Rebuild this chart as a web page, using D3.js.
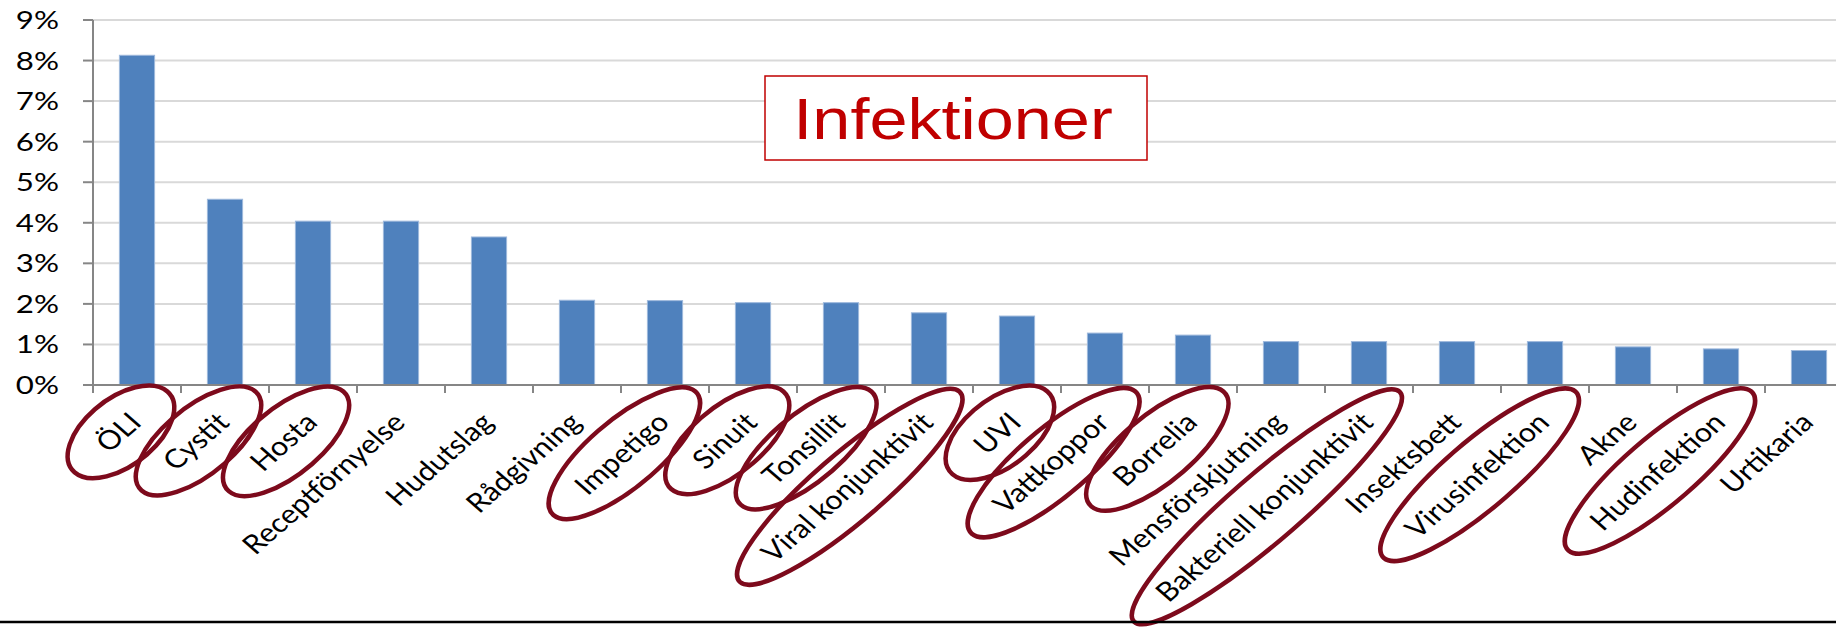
<!DOCTYPE html>
<meta charset="utf-8">
<script src="https://d3js.org/d3.v7.min.js"></script>
<style>
body { margin: 0; background: #fff; }
.tick-label { font-family: Lato, "DejaVu Sans", sans-serif; fill: #000; }
</style>
<div id="chart"></div>
<script>

// categories and shares (percent)
var categories = ["ÖLI", "Cystit", "Hosta", "Receptförnyelse", "Hudutslag", "Rådgivning",
  "Impetigo", "Sinuit", "Tonsillit", "Viral konjunktivit", "UVI", "Vattkoppor", "Borrelia",
  "Mensförskjutning", "Bakteriell konjunktivit", "Insektsbett", "Virusinfektion", "Akne",
  "Hudinfektion", "Urtikaria"];
var shares = [8.13, 4.58, 4.04, 4.04, 3.65, 2.09, 2.08, 2.03, 2.03, 1.78, 1.70, 1.28, 1.23,
  1.07, 1.07, 1.07, 1.07, 0.94, 0.89, 0.85];
// labels that are circled in red
var circled = ["ÖLI", "Cystit", "Hosta", "Impetigo", "Sinuit", "Tonsillit", "Viral konjunktivit",
  "UVI", "Vattkoppor", "Borrelia", "Bakteriell konjunktivit", "Virusinfektion", "Hudinfektion"];
var yTicks = [0, 1, 2, 3, 4, 5, 6, 7, 8, 9];
var title = "Infektioner";

var W = 1836, H = 627;
var x0 = 93, step = 88, yBase = 385, yTop = 20;
var sx = 1.15; // the original picture is stretched sideways

var svg = d3.select("#chart").append("svg")
  .attr("width", W).attr("height", H);

var x = d3.scaleBand()
  .domain(categories)
  .range([x0, x0 + step * categories.length])
  .paddingInner(0.6)
  .paddingOuter(0.3);

var y = d3.scaleLinear()
  .domain([0, 9])
  .range([yBase, yTop]);

// gridlines
svg.append("g").selectAll("line")
  .data(yTicks.slice(1))
  .enter().append("line")
    .attr("x1", x0).attr("x2", W)
    .attr("y1", function(d) { return y(d); })
    .attr("y2", function(d) { return y(d); })
    .attr("stroke", "#d9d9d9").attr("stroke-width", 2);

// bars
svg.append("g").selectAll("rect")
  .data(categories)
  .enter().append("rect")
    .attr("x", function(d) { return x(d); })
    .attr("width", x.bandwidth())
    .attr("y", function(d, i) { return y(shares[i]); })
    .attr("height", function(d, i) { return yBase - y(shares[i]); })
    .attr("fill", "#4f81bd")
    .attr("stroke", "#9db8dc").attr("stroke-width", 1);

// axes
var axisColor = "#868686";
svg.append("line")
  .attr("x1", x0).attr("x2", x0).attr("y1", yTop).attr("y2", yBase)
  .attr("stroke", axisColor).attr("stroke-width", 2);
svg.append("line")
  .attr("x1", x0 - 10).attr("x2", W).attr("y1", yBase).attr("y2", yBase)
  .attr("stroke", axisColor).attr("stroke-width", 2);

// y ticks and labels
svg.append("g").selectAll("line")
  .data(yTicks)
  .enter().append("line")
    .attr("x1", x0 - 10).attr("x2", x0)
    .attr("y1", function(d) { return y(d); })
    .attr("y2", function(d) { return y(d); })
    .attr("stroke", axisColor).attr("stroke-width", 2);

svg.append("g").selectAll("text")
  .data(yTicks)
  .enter().append("text")
    .attr("class", "tick-label")
    .style("font-size", "25px")
    .attr("text-anchor", "end")
    .attr("dy", "0.36em")
    .attr("transform", function(d) { return "translate(59," + y(d) + ") scale(1.25,1)"; })
    .text(function(d) { return d + "%"; });

// x ticks at band edges
svg.append("g").selectAll("line")
  .data(d3.range(categories.length + 1))
  .enter().append("line")
    .attr("x1", function(i) { return x0 + i * step; })
    .attr("x2", function(i) { return x0 + i * step; })
    .attr("y1", yBase).attr("y2", yBase + 8)
    .attr("stroke", axisColor).attr("stroke-width", 2);

// rotated category labels, with red rings for the infection ones
var labels = svg.append("g").selectAll("g")
  .data(categories)
  .enter().append("g")
    .attr("transform", function(d) {
      return "translate(" + (x(d) + x.bandwidth() / 2 + 6) + ",424) scale(" + sx + ",1) rotate(-45)";
    });

labels.append("text")
  .attr("class", "tick-label")
  .style("font-size", "26.5px")
  .attr("text-anchor", "end")
  .text(function(d) { return d; });

labels.filter(function(d) { return circled.indexOf(d) >= 0; })
  .append("ellipse")
    .attr("cx", function() {
      var w = this.parentNode.querySelector("text").getComputedTextLength();
      return -w / 2 + 2;
    })
    .attr("cy", -8)
    .attr("rx", function() {
      var w = this.parentNode.querySelector("text").getComputedTextLength();
      return w / 2 + 36;
    })
    .attr("ry", 32)
    .attr("fill", "none")
    .attr("stroke", "#7d0a1c")
    .attr("stroke-width", 4.5)
    .attr("vector-effect", "non-scaling-stroke");

// title box
svg.append("rect")
  .attr("x", 765).attr("y", 76).attr("width", 382).attr("height", 84)
  .attr("fill", "#fff").attr("stroke", "#c00000").attr("stroke-width", 1.5);
svg.append("text")
  .attr("transform", "translate(953,139) scale(1.2,1)")
  .attr("text-anchor", "middle")
  .style("font-family", "'Liberation Sans', Arial, sans-serif")
  .style("font-size", "57px")
  .attr("fill", "#c00000")
  .text(title);

// rule at the bottom of the slide
svg.append("line")
  .attr("x1", 0).attr("x2", W).attr("y1", 622).attr("y2", 622)
  .attr("stroke", "#000").attr("stroke-width", 2.5);

</script>
